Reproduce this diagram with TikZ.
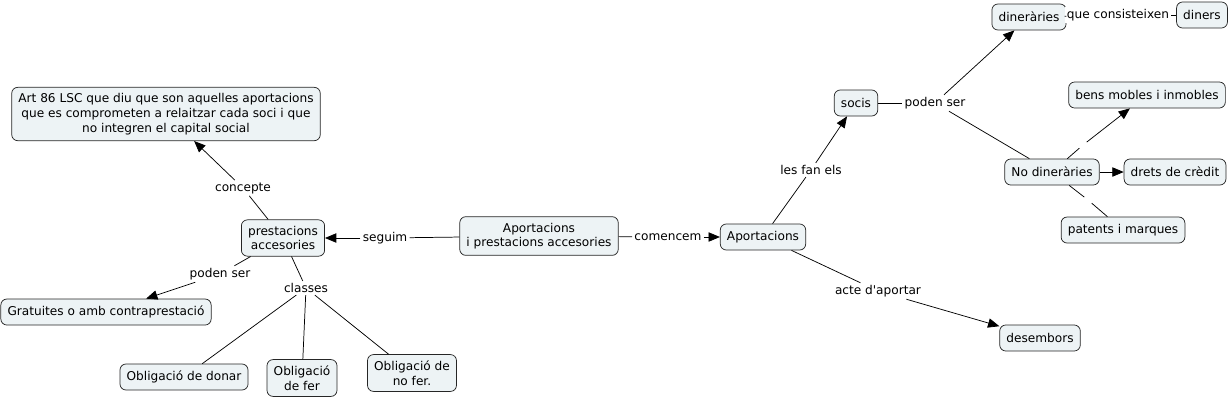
\documentclass[tikz,border=0pt]{standalone}
\usepackage{fontspec}
\setmainfont{DejaVu Sans}
\usetikzlibrary{arrows.meta}
\definecolor{cfill}{HTML}{EDF3F5}

\begin{document}
\begin{tikzpicture}[x=0.75pt, y=-0.75pt, line width=0.55pt, every node/.style={font=\fontsize{9.1}{11}\selectfont},
			c/.style={draw=black!85, rounded corners=4.5pt, fill=cfill, inner xsep=5pt, inner ysep=4.6pt, align=center, minimum height=19.5pt},
			l/.style={fill=white, inner sep=1.5pt},
			g/.style={inner sep=2.5pt},
			a/.style={-{Triangle[length=8.5pt,width=7pt]}}]
			\useasboundingbox (0,0) rectangle (1232,401);
			% concepts
			\node[c] (cen) at (539,236) {Aportacions\\i prestacions accesories};
			\node[c] (apor) at (763,237) {Aportacions};
			\node[c] (prest) at (283,238) {prestacions\\accesories};
			\node[c] (art) at (166,114) {Art 86 LSC que diu que son aquelles aportacions\\que es comprometen a relaitzar cada soci i que\\no integren el capital social};
			\node[c] (grat) at (106,312) {Gratuites o amb contraprestació};
			\node[c] (donar) at (184,377) {Obligació de donar};
			\node[c] (fer) at (302,378) {Obligació\\de fer};
			\node[c] (nofer) at (412,373) {Obligació de\\no fer.};
			\node[c] (socis) at (856,103) {socis};
			\node[c] (din) at (1029,17) {dineràries};
			\node[c] (diners) at (1202,15) {diners};
			\node[c] (bens) at (1147,95) {bens mobles i inmobles};
			\node[c] (nodin) at (1052,172) {No dineràries};
			\node[c] (drets) at (1175,172) {drets de crèdit};
			\node[c] (pat) at (1123,230) {patents i marques};
			\node[c] (des) at (1040,338) {desembors};
			% linking phrases
			\node[l] (seg) at (385,238) {seguim};
			\node[l] (com) at (668,237) {comencem};
			\node[l] (conc) at (243,188) {concepte};
			\node[l] (pod1) at (220,274) {poden ser};
			\node[l] (cla) at (306,288) {classes};
			\node[l] (fan) at (811,170) {les fan els};
			\node[l] (pod2) at (935,103) {poden ser};
			\node[l] (acte) at (878,291) {acte d\textquotesingle aportar};
			\node[l] (cons) at (1118,15) {que consisteixen};
			\node[g] (g1) at (1083,145) {};
			\node[g] (g2) at (1088,200) {};
			% links
			\draw (cen) -- (seg); \draw[a] (seg) -- (prest);
			\draw (cen) -- (com); \draw[a] (com) -- (apor);
			\draw (prest) -- (conc); \draw[a] (conc) -- (art);
			\draw (prest) -- (pod1); \draw[a] (pod1) -- (grat);
			\draw (prest) -- (cla);
			\draw (cla) -- (donar); \draw (cla) -- (fer); \draw (cla) -- (nofer);
			\draw (apor) -- (fan); \draw[a] (fan) -- (socis);
			\draw (apor) -- (acte); \draw[a] (acte) -- (des);
			\draw (socis) -- (pod2); \draw[a] (pod2) -- (din);
			\draw (pod2) -- (nodin);
			\draw (din) -- (cons); \draw (cons) -- (diners);
			\draw (nodin) -- (g1); \draw[a] (g1) -- (bens);
			\draw[a] (nodin) -- (drets);
			\draw (nodin) -- (g2); \draw (g2) -- (pat);
		\end{tikzpicture}
\end{document}
